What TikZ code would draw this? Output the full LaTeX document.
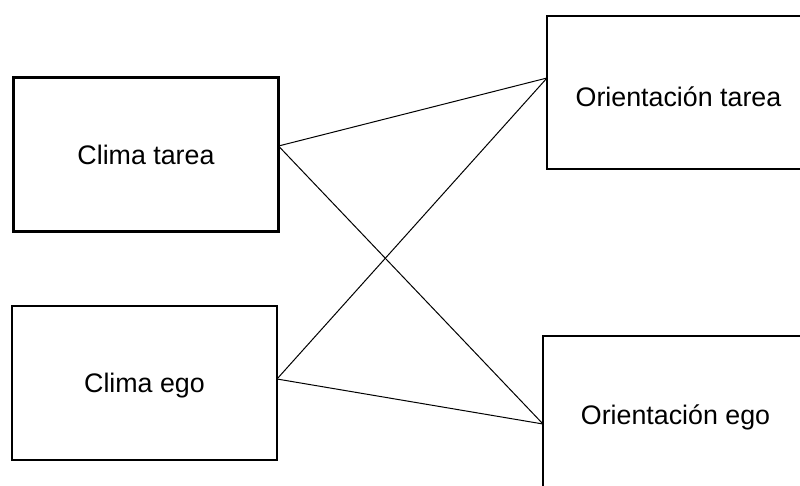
\documentclass[tikz,border=0pt]{standalone}
\usepackage{fontspec}
\setmainfont{Liberation Sans}
% move a label down inside its box without changing the box size
\newcommand{\lowered}[2]{\raisebox{-#1}[\height][\depth]{#2}}
\begin{document}
\begin{tikzpicture}[x=1pt,y=-1pt,
  box/.style={draw, line width=2.6pt, rectangle, inner sep=0pt, outer sep=0pt,
    minimum width=265pt, minimum height=154pt, align=center,
    font=\fontsize{26.8}{32}\selectfont},
  link/.style={line width=1pt}]
\useasboundingbox (0,0) rectangle (800,485);
\clip (0,0) rectangle (800,485);
\node[box] (ct) at (146,154.5) {Clima tarea};
\node[box] (ce) at (144.5,383) {\lowered{3pt}{Clima ego}};
\node[box, minimum width=263pt, minimum height=153pt] (ot) at (678.5,92.5) {\lowered{4pt}{Orientación tarea}};
\node[box] (oe) at (675.5,413) {\lowered{4pt}{Orientación ego}};
\coordinate (cta) at ([yshift=8.5pt]ct.east);
\coordinate (cea) at ([yshift=4pt]ce.east);
\coordinate (ota) at ([yshift=14.5pt]ot.west);
\coordinate (oea) at ([yshift=-11pt]oe.west);
\draw[link] (cta) -- (ota);
\draw[link] (cta) -- (oea);
\draw[link] (cea) -- (ota);
\draw[link] (cea) -- (oea);
\end{tikzpicture}
\end{document}
